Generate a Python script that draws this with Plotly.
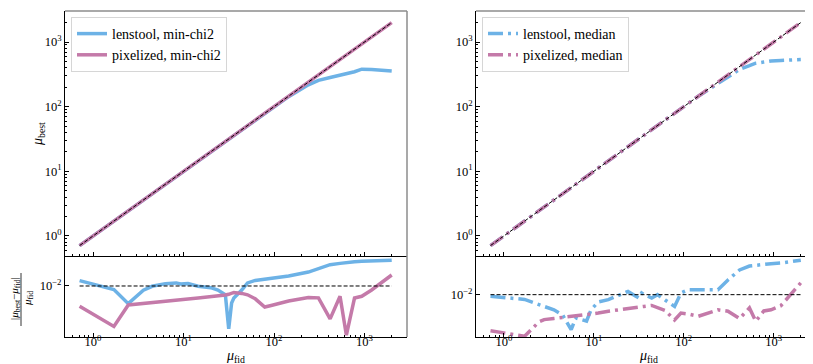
import plotly.graph_objects as go

# fiducial magnifications (shared grid)
mu_fid = [0.71, 1.7, 2.45, 2.8, 3.6, 4.5, 5.6, 6.3, 8.3, 9.3, 11.2, 14.5, 20, 24, 29,
          31.6, 34, 36, 44, 51, 62, 79, 93, 112, 145, 240, 310, 417, 537, 631, 776,
          933, 1200, 2000]

# best-fit magnifications (top panels)
best_lenstool_chi2 = [0.71, 1.7, 2.45, 2.8, 3.6, 4.5, 5.6, 6.3, 8.3, 9.3, 11.2, 14.5, 20, 24, 29,
                      31.6, 34, 36, 44, 51, 62, 79, 93, 112, 143, 218, 255, 282, 305, 320, 347,
                      380, 376, 355]
best_pixelized_chi2 = [0.71, 1.7, 2.45, 2.8, 3.6, 4.5, 5.6, 6.3, 8.3, 9.3, 11.2, 14.5, 20, 24, 29,
                       31.6, 34, 36, 44, 51, 62, 79, 93, 112, 145, 240, 310, 417, 537, 631, 776,
                       933, 1200, 2000]
best_lenstool_median = [0.71, 1.7, 2.45, 2.8, 3.6, 4.5, 5.6, 6.3, 8.3, 9.3, 11.2, 14.5, 20, 24, 29,
                        31.6, 34, 36, 44, 51, 62, 79, 93, 112, 145, 228, 290, 378, 430, 470, 490,
                        510, 520, 537]
best_pixelized_median = [0.71, 1.7, 2.45, 2.8, 3.6, 4.5, 5.6, 6.3, 8.3, 9.3, 11.2, 14.5, 20, 24, 29,
                         31.6, 34, 36, 44, 51, 62, 79, 93, 112, 145, 240, 310, 417, 537, 631, 776,
                         933, 1200, 2000]

# relative residuals |mu_best - mu_fid| / mu_fid (bottom panels)
res_lenstool_chi2 = [0.025, 0.0054, 0.00048, 0.0011, 0.0048, 0.0095, 0.013, 0.015, 0.017, 0.014,
                     0.015, 0.0095, 0.0075, 0.005, 0.0022, 6.2e-6, 0.00054, 0.00126, 0.005, 0.017,
                     0.026, 0.033, 0.040, 0.047, 0.056, 0.11, 0.20, 0.39, 0.49, 0.59, 0.65, 0.69,
                     0.74, 0.83]
res_pixelized_chi2 = [3.1e-4, 9.5e-6, 3.8e-4, 4.2e-4, 4.6e-4, 5.4e-4, 6.9e-4, 7.9e-4, 9.1e-4, 9.5e-4,
                      1.07e-3, 1.26e-3, 1.5e-3, 1.7e-3, 2.1e-3, 2.4e-3, 2.7e-3, 3.3e-3, 2.8e-3, 2.2e-3,
                      1.1e-3, 2.7e-4, 3.5e-4, 4.9e-4, 7.6e-4, 1.4e-3, 1.3e-3, 3.5e-5, 1.7e-3, 2.1e-6,
                      1.26e-3, 1.7e-3, 5.0e-3, 0.066]
res_lenstool_median = [0.0082, 0.0055, 0.0029, 0.0023, 0.0015, 0.00079, 0.000125, 0.00054, 0.00037,
                       0.0015, 0.0040, 0.0054, 0.010, 0.015, 0.0085, 0.0066, 0.0123, 0.0102, 0.0066,
                       0.010, 0.0051, 0.0023, 0.0123, 0.0186, 0.0186, 0.0186, 0.063, 0.22, 0.36,
                       0.40, 0.44, 0.48, 0.52, 0.74]
res_pixelized_median = [1.1e-4, 5.5e-5, 3.3e-4, 4.4e-4, 5.1e-4, 5.8e-4, 6.6e-4, 6.9e-4, 8.1e-4, 8.9e-4,
                        1.0e-3, 1.26e-3, 1.5e-3, 1.7e-3, 1.9e-3, 2.0e-3, 2.1e-3, 2.3e-3, 2.6e-3, 1.9e-3,
                        1.4e-3, 4.2e-4, 1.0e-3, 8.9e-4, 6.7e-4, 1.5e-3, 1.26e-3, 5.0e-4, 1.9e-3, 3.6e-4,
                        1.3e-3, 1.5e-3, 2.5e-3, 0.044]

# ticks
x_ticks = [1, 10, 100, 1000]
x_ticktext = ['10<sup>0</sup>', '10<sup>1</sup>', '10<sup>2</sup>', '10<sup>3</sup>']
y_ticks = [1, 10, 100, 1000]
y_ticktext = ['10<sup>0</sup>', '10<sup>1</sup>', '10<sup>2</sup>', '10<sup>3</sup>']
res_ticks = [0.01]
res_ticktext = ['10<sup>\u22122</sup>']
minor_ticks = [m * 10 ** e for e in range(-1, 4) for m in range(2, 10) if 0.49 < m * 10 ** e < 2950]

BLUE = '#6db2e6'
PINK = '#c47aa9'
FONT = 'Liberation Serif'
W, H = 813, 364


def px_x(p):
    return p / W


def px_y(p):
    return 1 - p / H


LEFT = [px_x(57), px_x(399)]
RIGHT = [px_x(468), px_x(808)]
TOP = [px_y(248), px_y(3)]
BOT = [px_y(329), px_y(248)]

fig = go.Figure()

panels = [
    # (xaxis, yaxis, res xaxis, res yaxis, lenstool best, pixel best, lenstool res, pixel res, dash, label, legend)
    ('x', 'y', 'x2', 'y2', best_lenstool_chi2, best_pixelized_chi2,
     res_lenstool_chi2, res_pixelized_chi2, 'solid', 'min-chi2', 'legend'),
    ('x3', 'y3', 'x4', 'y4', best_lenstool_median, best_pixelized_median,
     res_lenstool_median, res_pixelized_median, '15px,5px,3px,5px', 'median', 'legend2'),
]

for xa, ya, xr, yr, bl, bp, rl, rp, dash, lab, leg in panels:
    fig.add_trace(go.Scatter(x=mu_fid, y=bl, mode='lines', xaxis=xa, yaxis=ya,
                             line=dict(color=BLUE, width=3.5, dash=dash),
                             name=f'lenstool, {lab}', legend=leg))
    fig.add_trace(go.Scatter(x=mu_fid, y=bp, mode='lines', xaxis=xa, yaxis=ya,
                             line=dict(color=PINK, width=3.5, dash=dash),
                             name=f'pixelized, {lab}', legend=leg))
    fig.add_trace(go.Scatter(x=[mu_fid[0], mu_fid[-1]], y=[mu_fid[0], mu_fid[-1]], mode='lines',
                             xaxis=xa, yaxis=ya, showlegend=False,
                             line=dict(color='black', width=1, dash='4px,2px')))
    fig.add_trace(go.Scatter(x=mu_fid, y=rl, mode='lines', xaxis=xr, yaxis=yr, showlegend=False,
                             line=dict(color=BLUE, width=3.5, dash=dash)))
    fig.add_trace(go.Scatter(x=mu_fid, y=rp, mode='lines', xaxis=xr, yaxis=yr, showlegend=False,
                             line=dict(color=PINK, width=3.5, dash=dash)))
    fig.add_trace(go.Scatter(x=[mu_fid[0], mu_fid[-1]], y=[0.01, 0.01], mode='lines',
                             xaxis=xr, yaxis=yr, showlegend=False,
                             line=dict(color='black', width=1, dash='4px,2px')))

tickfont = dict(family=FONT, size=12.5, color='black')


def xaxis(domain, anchor, labels):
    return dict(type='log', range=[-0.31, 3.47], domain=domain, anchor=anchor,
                showline=True, linecolor='black', linewidth=1, showgrid=False, zeroline=False,
                ticks='inside', ticklen=4, tickcolor='black', tickwidth=1,
                tickmode='array', tickvals=x_ticks, ticktext=x_ticktext,
                showticklabels=labels, tickfont=tickfont, ticklabelstandoff=-7,
                minor=dict(tickmode='array', tickvals=minor_ticks, ticks='inside',
                           ticklen=2, tickcolor='black', showgrid=False))


def yaxis(domain, anchor, rng, vals, text, minor):
    d = dict(type='log', range=rng, domain=domain, anchor=anchor,
             showline=True, linecolor='black', linewidth=1, showgrid=False, zeroline=False,
             ticks='inside', ticklen=4, tickcolor='black', tickwidth=1,
             tickmode='array', tickvals=vals, ticktext=text, tickfont=tickfont)
    if minor:
        d['minor'] = dict(tickmode='array', tickvals=minor_ticks, ticks='inside',
                          ticklen=2, tickcolor='black', showgrid=False)
    return d


fig.update_layout(
    width=W, height=H,
    margin=dict(l=0, r=0, t=0, b=0),
    paper_bgcolor='white', plot_bgcolor='white',
    font=dict(family=FONT, color='black'),
    xaxis=xaxis(LEFT, 'y', False),
    yaxis=yaxis(TOP, 'x', [-0.31, 3.48], y_ticks, y_ticktext, True),
    xaxis2=xaxis(LEFT, 'y2', True),
    yaxis2=yaxis(BOT, 'x2', [-5.81, 0.24], res_ticks, res_ticktext, False),
    xaxis3=xaxis(RIGHT, 'y3', False),
    yaxis3=yaxis(TOP, 'x3', [-0.31, 3.48], y_ticks, y_ticktext, True),
    xaxis4=xaxis(RIGHT, 'y4', True),
    yaxis4=yaxis(BOT, 'x4', [-4.30, 0.10], res_ticks, res_ticktext, False),
    legend=dict(x=px_x(63), y=px_y(9), xanchor='left', yanchor='top',
                bgcolor='white', bordercolor='#d6d6d6', borderwidth=1,
                font=dict(family=FONT, size=14, color='black'), itemwidth=30),
    legend2=dict(x=px_x(474), y=px_y(9), xanchor='left', yanchor='top',
                 bgcolor='white', bordercolor='#d6d6d6', borderwidth=1,
                 font=dict(family=FONT, size=14, color='black'), itemwidth=30),
)

# top / right spines
for xa, ya in [('x', 'y'), ('x2', 'y2'), ('x3', 'y3'), ('x4', 'y4')]:
    fig.add_shape(type='line', xref=f'{xa} domain', yref=f'{ya} domain',
                  x0=1, x1=1, y0=0, y1=1, line=dict(color='#8c8c8c', width=1.5))
for xa, ya in [('x', 'y'), ('x3', 'y3')]:
    fig.add_shape(type='line', xref=f'{xa} domain', yref=f'{ya} domain',
                  x0=0, x1=1, y0=1, y1=1, line=dict(color='#8c8c8c', width=1.5))

label_font = dict(family=FONT, size=14, color='black')
annotations = [
    dict(x=px_x(30), y=px_y(126), text='<i>μ</i><sub>best</sub>', textangle=-90),
    dict(x=px_x(228), y=px_y(348), text='<i>μ</i><sub>fid</sub>', textangle=0),
    dict(x=px_x(640), y=px_y(348), text='<i>μ</i><sub>fid</sub>', textangle=0),
]
for a in annotations:
    fig.add_annotation(xref='paper', yref='paper', showarrow=False, font=label_font,
                       xanchor='center', yanchor='middle', **a)

# residual label as a stacked fraction
small = dict(family=FONT, size=11, color='black')
fig.add_annotation(xref='paper', yref='paper', x=px_x(7), y=px_y(291), showarrow=False,
                   text='|<i>μ</i><sub>best</sub>\u2212<i>μ</i><sub>fid</sub>|', textangle=-90,
                   font=small, xanchor='center', yanchor='middle')
fig.add_annotation(xref='paper', yref='paper', x=px_x(20), y=px_y(291), showarrow=False,
                   text='<i>μ</i><sub>fid</sub>', textangle=-90,
                   font=small, xanchor='center', yanchor='middle')
fig.add_shape(type='line', xref='paper', yref='paper', x0=px_x(13), x1=px_x(13),
              y0=px_y(265), y1=px_y(318), line=dict(color='black', width=0.8))

fig.write_html('out.html')
